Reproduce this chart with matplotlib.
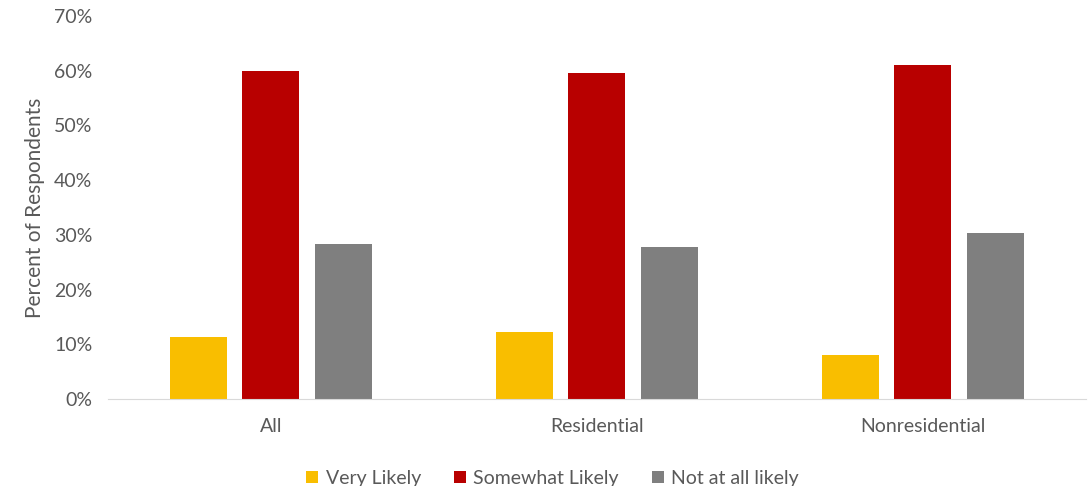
import matplotlib.pyplot as plt
import numpy as np
from matplotlib.ticker import FuncFormatter

# -------------------------
# DATA
# -------------------------

categories = ["All", "Residential", "Nonresidential"]
series_names = ["Very Likely", "Somewhat Likely", "Not at all likely"]
very_likely = [11.3, 12.2, 8.1]
somewhat_likely = [60.0, 59.6, 61.1]
not_likely = [28.4, 27.7, 30.3]

colors = ["#F9BE00", "#B80000", "#7F7F7F"]
text_color = "#595959"

plt.rcParams["font.family"] = ["Lato", "DejaVu Sans"]

# -------------------------
# PLOT
# -------------------------

fig = plt.figure(figsize=(10.88, 4.86), dpi=100)
ax = fig.add_axes([0.099, 0.179, 0.899, 0.788])

x = np.arange(len(categories))
width = 0.175
step = 0.222

for i, (vals, name) in enumerate(zip([very_likely, somewhat_likely, not_likely], series_names)):
    ax.bar(x + (i - 1) * step, vals, width, color=colors[i], label=name)

ax.set_xlim(-0.5, len(categories) - 0.5)
ax.set_ylim(0, 70)
ax.set_yticks(range(0, 71, 10))
ax.yaxis.set_major_formatter(FuncFormatter(lambda v, _: f"{v:.0f}%"))
ax.set_xticks(x)
ax.set_xticklabels(categories)

for side in ["top", "right", "left"]:
    ax.spines[side].set_visible(False)
ax.spines["bottom"].set_color("#D9D9D9")
ax.tick_params(axis="both", length=0, labelsize=14, colors=text_color)
ax.tick_params(axis="x", pad=14)
ax.tick_params(axis="y", pad=11)

ax.set_ylabel("Percent of Respondents", fontsize=15, color=text_color)
ax.yaxis.set_label_coords(-0.064, 0.5)

fig.legend(loc="lower center", bbox_to_anchor=(0.508, -0.038), ncol=3, frameon=False,
           fontsize=14, labelcolor=text_color, handlelength=0.6, handleheight=0.6,
           handletextpad=0.4, columnspacing=1.7)

fig.savefig("out.png", dpi=100)
